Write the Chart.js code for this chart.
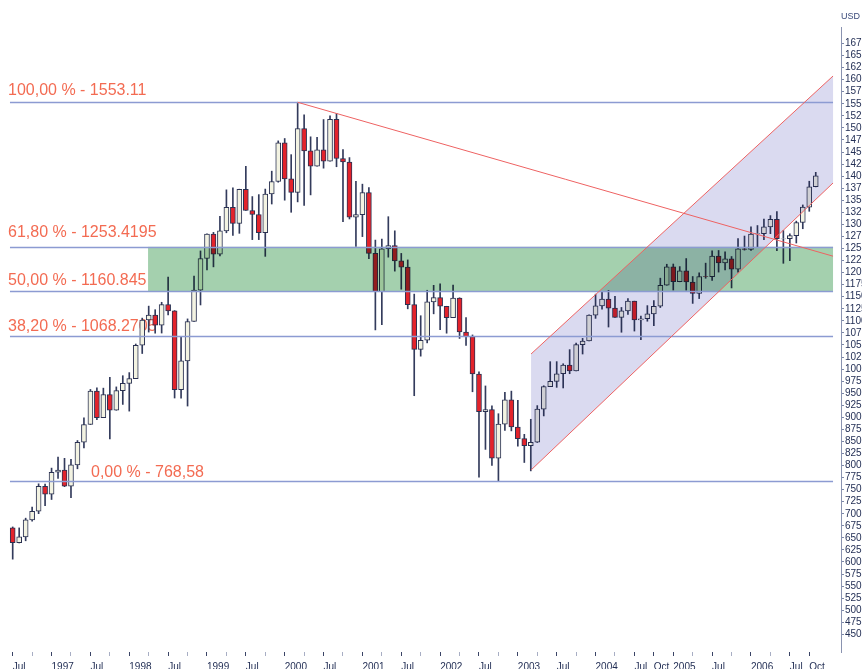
<!DOCTYPE html>
<html>
<head>
<meta charset="utf-8">
<title>S&amp;P 500 monthly - Fibonacci</title>
<script src="https://cdn.jsdelivr.net/npm/chart.js@4.4.1/dist/chart.umd.min.js"></script>
<style>
  html, body { margin: 0; padding: 0; background: #fff; }
  #wrap { width: 862px; height: 669px; position: relative; }
</style>
</head>
<body>
<div id="wrap"><canvas id="chart"></canvas></div>
<script>
// monthly candles, Jul 1996 .. Nov 2006 (index 0 = Jul 1996)
const opens = [
  670.63, 639.95, 651.99, 687.31, 705.27, 757.02,
  740.74, 786.16, 790.82, 757.12, 801.34, 848.28, 885.14, 954.29, 899.47, 947.28, 914.62, 955.40,
  970.43, 980.28, 1049.34, 1101.75, 1111.75, 1090.82, 1133.84, 1120.67, 957.28, 1017.01, 1098.67, 1163.63,
  1229.23, 1279.64, 1238.33, 1286.37, 1335.18, 1301.84, 1372.71, 1328.72, 1320.41, 1282.71, 1362.93, 1388.91,
  1469.25, 1394.46, 1366.42, 1498.58, 1452.43, 1420.60, 1454.60, 1430.83, 1517.68, 1436.51, 1429.40, 1314.95,
  1320.28, 1366.01, 1239.94, 1160.33, 1249.46, 1255.82, 1224.42, 1211.23, 1133.58, 1040.94, 1059.78, 1139.45,
  1148.08, 1130.20, 1106.73, 1147.39, 1076.92, 1067.14, 989.82, 911.62, 916.07, 815.28, 885.76, 936.31,
  879.82, 855.70, 841.15, 848.18, 916.92, 963.59, 974.50, 990.31, 1008.01, 995.97, 1050.71, 1058.20,
  1111.92, 1131.13, 1144.94, 1126.21, 1107.30, 1120.68, 1140.84, 1101.72, 1104.24, 1114.58, 1130.20, 1173.82,
  1211.92, 1181.27, 1203.60, 1180.59, 1156.85, 1191.50, 1191.33, 1234.18, 1220.33, 1228.81, 1207.01, 1249.48,
  1248.29, 1280.08, 1280.66, 1294.83, 1310.61, 1270.05, 1270.20, 1276.66, 1303.82, 1335.85, 1377.94
];
const highs = [
  672.68, 670.68, 690.88, 714.10, 762.12, 761.75,
  794.67, 817.68, 814.90, 812.93, 851.87, 898.70, 957.73, 961.32, 960.46, 983.12, 963.02, 986.25,
  992.65, 1051.96, 1105.65, 1130.52, 1123.09, 1138.49, 1190.58, 1121.24, 1066.11, 1104.00, 1192.97, 1244.93,
  1280.37, 1283.41, 1316.55, 1371.56, 1375.98, 1372.93, 1420.33, 1357.62, 1361.70, 1373.17, 1410.30, 1473.10,
  1478.00, 1444.55, 1553.11, 1527.19, 1481.51, 1480.54, 1517.32, 1525.21, 1530.09, 1454.82, 1438.46, 1389.06,
  1383.37, 1376.38, 1267.42, 1269.30, 1315.93, 1286.62, 1239.78, 1226.27, 1155.40, 1110.61, 1163.38, 1173.62,
  1176.97, 1130.20, 1173.94, 1147.84, 1106.59, 1070.74, 994.46, 965.00, 924.02, 907.44, 951.57, 954.28,
  935.05, 864.64, 895.90, 924.24, 965.38, 1015.33, 1015.41, 1011.01, 1040.29, 1053.79, 1063.65, 1112.56,
  1155.38, 1158.98, 1163.23, 1150.57, 1127.74, 1146.34, 1140.84, 1109.68, 1131.54, 1142.05, 1188.46, 1217.33,
  1217.80, 1212.44, 1229.11, 1191.88, 1199.56, 1219.59, 1245.15, 1245.86, 1243.13, 1233.34, 1270.64, 1275.80,
  1294.90, 1297.57, 1310.88, 1318.16, 1326.70, 1287.28, 1280.42, 1306.74, 1340.28, 1389.45, 1407.89
];
const lows = [
  605.88, 639.49, 643.97, 684.49, 700.15, 716.69,
  729.55, 773.43, 756.13, 733.54, 793.21, 836.33, 885.14, 894.86, 899.47, 855.27, 914.62, 926.69,
  912.83, 980.28, 1032.25, 1076.70, 1074.39, 1074.67, 1112.44, 939.98, 939.71, 923.32, 1098.67, 1132.88,
  1205.46, 1211.89, 1234.67, 1282.56, 1277.31, 1281.41, 1328.72, 1268.37, 1268.37, 1233.66, 1342.18, 1387.38,
  1350.14, 1325.07, 1346.62, 1339.40, 1361.09, 1420.60, 1416.51, 1430.83, 1419.44, 1305.79, 1311.14, 1254.07,
  1274.62, 1228.78, 1081.19, 1091.99, 1232.00, 1203.03, 1165.54, 1124.87, 944.75, 1026.76, 1054.31, 1114.51,
  1081.66, 1074.36, 1106.73, 1063.46, 1048.96, 952.92, 775.68, 833.44, 800.20, 768.63, 872.57, 871.84,
  840.34, 806.29, 788.90, 847.85, 902.83, 963.59, 962.10, 960.84, 990.36, 995.97, 1031.20, 1058.20,
  1105.08, 1124.44, 1087.16, 1107.23, 1076.32, 1113.32, 1078.78, 1060.72, 1099.18, 1090.19, 1127.60, 1173.76,
  1163.75, 1180.95, 1163.69, 1136.15, 1146.18, 1188.30, 1183.55, 1201.07, 1205.35, 1168.20, 1201.07, 1246.59,
  1245.74, 1253.61, 1268.42, 1280.74, 1245.34, 1219.29, 1224.54, 1261.30, 1290.93, 1327.10, 1377.76
];
const closes = [
  639.95, 651.99, 687.33, 705.27, 757.02, 740.74,
  786.16, 790.82, 757.12, 801.34, 848.28, 885.14, 954.29, 899.47, 947.28, 914.62, 955.40, 970.43,
  980.28, 1049.34, 1101.75, 1111.75, 1090.82, 1133.84, 1120.67, 957.28, 1017.01, 1098.67, 1163.63, 1229.23,
  1279.64, 1238.33, 1286.37, 1335.18, 1301.84, 1372.71, 1328.72, 1320.41, 1282.71, 1362.93, 1388.91, 1469.25,
  1394.46, 1366.42, 1498.58, 1452.43, 1420.60, 1454.60, 1430.83, 1517.68, 1436.51, 1429.40, 1314.95, 1320.28,
  1366.01, 1239.94, 1160.33, 1249.46, 1255.82, 1224.38, 1211.23, 1133.58, 1040.94, 1059.78, 1139.45, 1148.08,
  1130.20, 1106.73, 1147.39, 1076.92, 1067.14, 989.82, 911.62, 916.07, 815.28, 885.76, 936.31, 879.82,
  855.70, 841.15, 848.18, 916.92, 963.59, 974.50, 990.31, 1008.01, 995.97, 1050.71, 1058.20, 1111.92,
  1131.13, 1144.94, 1126.21, 1107.30, 1120.68, 1140.84, 1101.72, 1104.24, 1114.58, 1130.20, 1173.82, 1211.92,
  1181.27, 1203.60, 1180.59, 1156.85, 1191.50, 1191.33, 1234.18, 1220.33, 1228.81, 1207.01, 1249.48, 1248.29,
  1280.08, 1280.66, 1294.83, 1310.61, 1270.09, 1270.20, 1276.66, 1303.82, 1335.85, 1377.94, 1400.63
];

// x axis ticks: every quarter from Jul 1996 (month index)
const xTickIdx = [0,3,6,9,12,15,18,21,24,27,30,33,36,39,42,45,48,51,54,57,60,63,66,69,72,75,78,81,84,87,90,93,96,99,102,105,108,111,114,117,120,123];
const xTickLabels = ['Jul','','1997','','Jul','','1998','','Jul','','1999','','Jul','','2000','','Jul','','2001','',
  'Jul','','2002','','Jul','','2003','','Jul','','2004','','Jul','Oct','2005','','Jul','','2006','','Jul','Oct'];
const yTicks = [];
for (let v = 450; v <= 1675; v += 25) yTicks.push(v);

// fibonacci retracement
const fibLevels = [1553.11, 1253.4195, 1160.845, 1068.2705, 768.58];
const fibLabels = ['100,00 % - 1553.11', '61,80 % - 1253.4195', '50,00 % - 1160.845', '38,20 % - 1068.2705', '0,00 % - 768,58'];

// drawn objects (month index / price)
const bandStart = 20.9;
const overlayEnd = 126.67;
const lineStart = -0.42;
const channelX = [80.04, 126.67];
const channelUpper = [1031.3, 1607.6];
const channelLower = [790.7, 1385.8];
const trendX = [44, 126.67];
const trendY = [1553.11, 1234];

const wickData = closes.map((c, i) => ({x: i, y: [lows[i], highs[i]]}));
const bodyData = closes.map((c, i) => ({x: i, y: [opens[i], c]}));
const bodyColors = closes.map((c, i) => c >= opens[i] ? '#F3F3E2' : '#E3232B');

const fibPlugin = {
    id: 'fib',
    beforeDatasetsDraw(chart) {
        const {ctx, chartArea} = chart;
        const y = chart.scales.y;
        const labelLeft = [8, 8, 8, 8, 91];
        const labelLift = [7, 10, 6, 5, 4];
        ctx.save();
        ctx.font = '16px "Liberation Sans", Arial, sans-serif';
        ctx.fillStyle = '#F36B52';
        ctx.textBaseline = 'alphabetic';
        fibLabels.forEach((t, i) => {
            ctx.fillText(t, chartArea.left + labelLeft[i], y.getPixelForValue(fibLevels[i]) - labelLift[i]);
        });
        ctx.restore();
    },
    afterDatasetsDraw(chart) {
        const {ctx} = chart;
        const xs = chart.scales.x, ys = chart.scales.y;
        const px = v => xs.getPixelForValue(v);
        const py = v => ys.getPixelForValue(v);
        ctx.save();
        ctx.globalCompositeOperation = 'multiply';
        // green zone 50 - 61.8
        ctx.fillStyle = '#A4D0AE';
        ctx.fillRect(px(bandStart), py(fibLevels[1]), px(overlayEnd) - px(bandStart), py(fibLevels[2]) - py(fibLevels[1]));
        // channel
        ctx.fillStyle = '#DADAF0';
        ctx.beginPath();
        ctx.moveTo(px(channelX[0]), py(channelUpper[0]));
        ctx.lineTo(px(channelX[1]), py(channelUpper[1]));
        ctx.lineTo(px(channelX[1]), py(channelLower[1]));
        ctx.lineTo(px(channelX[0]), py(channelLower[0]));
        ctx.closePath();
        ctx.fill();
        ctx.globalCompositeOperation = 'source-over';

        // fib lines
        ctx.strokeStyle = '#8C9BD2';
        ctx.lineWidth = 1.3;
        fibLevels.forEach(lv => {
            const yy = Math.round(py(lv)) + 0.5;
            ctx.beginPath();
            ctx.moveTo(px(lineStart), yy);
            ctx.lineTo(px(overlayEnd), yy);
            ctx.stroke();
        });

        // red lines
        ctx.strokeStyle = '#EE6262';
        ctx.lineWidth = 1;
        ctx.beginPath();
        ctx.moveTo(px(channelX[0]), py(channelUpper[0]));
        ctx.lineTo(px(channelX[1]), py(channelUpper[1]));
        ctx.moveTo(px(channelX[0]), py(channelLower[0]));
        ctx.lineTo(px(channelX[1]), py(channelLower[1]));
        ctx.moveTo(px(trendX[0]), py(trendY[0]));
        ctx.lineTo(px(trendX[1]), py(trendY[1]));
        ctx.stroke();
        ctx.restore();
    },
    afterDraw(chart) {
        const ctx = chart.ctx;
        ctx.save();
        ctx.font = '9px "Liberation Sans", Arial, sans-serif';
        ctx.fillStyle = '#3A4A7A';
        ctx.textBaseline = 'middle';
        ctx.fillText('USD', chart.chartArea.right, 17);
        ctx.restore();
    }
};

const ctx = document.getElementById('chart').getContext('2d');
const chart = new Chart(ctx, {
    type: 'bar',
    data: {
        datasets: [
            {
                label: 'wick',
                data: wickData,
                backgroundColor: '#333B5C',
                borderWidth: 0,
                grouped: false,
                categoryPercentage: 1,
                barPercentage: 1,
                maxBarThickness: 1,
                order: 2
            },
            {
                label: 'body',
                data: bodyData,
                backgroundColor: bodyColors,
                borderColor: '#2A3152',
                borderWidth: 1,
                borderSkipped: false,
                grouped: false,
                categoryPercentage: 1,
                barPercentage: 1,
                maxBarThickness: 5,
                order: 1
            }
        ]
    },
    options: {
        responsive: true,
        maintainAspectRatio: false,
        animation: false,
        layout: { padding: { top: 27, left: 0, right: 0, bottom: 0 } },
        plugins: {
            legend: { display: false },
            tooltip: { enabled: false }
        },
        scales: {
            x: {
                type: 'linear',
                min: -1.961,
                max: 127.9,
                offset: false,
                afterFit(s) { s.height = 17; },
                afterBuildTicks(s) { s.ticks = xTickIdx.map(v => ({value: v})); },
                ticks: {
                    autoSkip: false,
                    maxRotation: 0,
                    align: 'start',
                    padding: 5,
                    color: '#243056',
                    font: { family: 'Liberation Sans', size: 10 },
                    callback: (v, i) => xTickLabels[i]
                },
                grid: {
                    drawOnChartArea: false,
                    offset: false,
                    tickLength: 4,
                    tickColor: c => xTickLabels[c.index] ? '#3A4466' : '#A8AEC4'
                },
                border: { display: false }
            },
            y: {
                type: 'linear',
                position: 'right',
                min: 413.4,
                max: 1709.2,
                bounds: 'data',
                afterFit(s) { s.width = 21; },
                afterBuildTicks(s) { s.ticks = yTicks.map(v => ({value: v})); },
                ticks: {
                    autoSkip: false,
                    padding: 1,
                    color: '#243056',
                    font: { family: 'Liberation Sans', size: 10 },
                    callback: v => String(v)
                },
                grid: {
                    drawOnChartArea: false,
                    tickLength: 3,
                    tickColor: '#7C88A8'
                },
                border: { display: true, dash: [1, 1], color: '#8A93B0' }
            }
        }
    },
    plugins: [fibPlugin]
});
</script>
</body>
</html>
